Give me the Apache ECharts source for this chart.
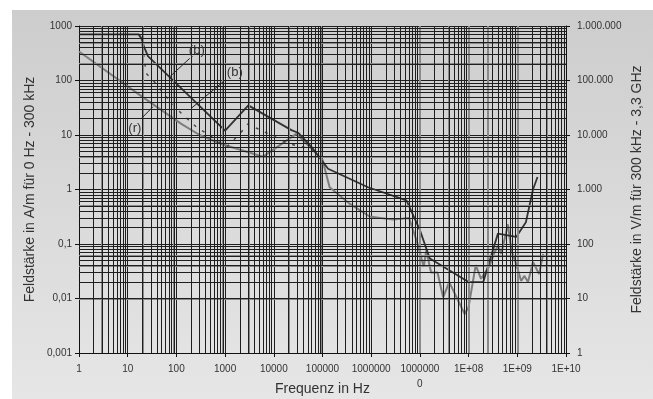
<!DOCTYPE html>
<html>
<head>
<meta charset="utf-8">
<script src="https://cdn.jsdelivr.net/npm/echarts@6/dist/echarts.min.js"></script>
<style>
  html, body { margin: 0; padding: 0; background: #fff; }
  #panel { position: absolute; left: 12px; top: 10px; width: 641px; height: 389px;
           background: linear-gradient(#cdcdcd, #e6e6e6); }
  #chart { position: absolute; left: 0; top: 0; width: 653px; height: 399px; }
</style>
</head>
<body>
<div id="panel"></div>
<div id="chart"></div>
<script>
// (b) solid curve, A/m
const darkFreq = [1, 17, 19, 22, 26, 1000, 3000, 23000, 31500, 60000, 130000, 860000, 5.3e6, 1e7, 1.6e7, 1e8, 2e8, 4e8, 9.5e8, 1.5e9, 2.1e9, 2.6e9];
const darkVal  = [700, 700, 600, 400, 280, 12, 35, 12.3, 11, 6, 2.4, 1.1, 0.63, 0.18, 0.054, 0.02, 0.02, 0.155, 0.135, 0.25, 1.0, 1.7];

// (b) dashed curve
const dashFreq = [17, 20, 24, 36, 62, 126, 257, 415, 1070, 2000, 2950, 4700, 10500, 19500, 55000, 80000];
const dashVal  = [700, 450, 135, 93, 50, 25, 14, 10.7, 6, 10.5, 16, 13, 9.3, 7, 5.6, 4.3];

// (r) grey curve
const greyFreq = [1, 20, 126, 300, 780, 6000, 29000, 55000, 100000, 140000, 360000, 930000, 2.8e6, 6e6, 9e6, 1.2e7, 1.35e7, 1.7e7, 2.3e7, 3e7, 4e7, 8.3e7, 1e8, 1.4e8, 1.8e8, 2.7e8, 3.4e8, 4e8, 4.7e8, 6.4e8, 7.6e8, 9.5e8, 1.2e9, 1.4e9, 1.66e9, 2.1e9, 2.8e9, 3.4e9];
const greyVal  = [340, 50, 16, 10, 7, 4, 10.5, 6, 3.5, 1.1, 0.55, 0.32, 0.28, 0.3, 0.1, 0.038, 0.076, 0.03, 0.03, 0.0105, 0.02, 0.0052, 0.007, 0.041, 0.023, 0.04, 0.07, 0.093, 0.066, 0.23, 0.075, 0.043, 0.021, 0.026, 0.02, 0.047, 0.028, 0.066];

// tick labels
const xTickLabels = ['1', '10', '100', '1000', '10000', '100000', '1000000', '1000000\n0', '1E+08', '1E+09', '1E+10'];
const yLeftLabels = ['0,001', '0,01', '0,1', '1', '10', '100', '1000'];
const yRightLabels = ['1', '10', '100', '1.000', '10.000', '100.000', '1.000.000'];

// extra grey grid lines of the scanned original
const greyGridX = [3, 20, 90, 900, 3000, 20000, 90000, 1e7, 4e7, 1e8, 2.5e8, 1e9, 4e9];
const greyGridY = [500, 200, 4, 0.5, 0.06, 0.04, 0.013, 0.005];

// annotations (text, text anchor, leader start, leader end)
const noteText = ['(b)', '(b)', '(r)'];
const noteAt   = [[262, 363], [1580, 141], [14, 13]];
const noteFrom = [[73, 117], [203, 31], [33, 33]];
const noteTo   = [[188, 255], [980, 100], [19, 20]];

const FONT = 'Liberation Sans, Arial, sans-serif';
const TEXT = '#333';
const GRID = '#1e1e1e';

// minor log grid: 2..9 of every decade
const minorX = [];
for (let k = 0; k < 10; k++) for (let m = 2; m <= 9; m++) minorX.push(m * Math.pow(10, k));
const minorY = [];
for (let k = -3; k < 3; k++) for (let m = 2; m <= 9; m++) minorY.push(m * Math.pow(10, k));

const pairs = (xs, ys) => xs.map((x, i) => [x, ys[i]]);
const decade = (v) => Math.round(Math.log10(v));

const chart = echarts.init(document.getElementById('chart'));
chart.setOption({
  animation: false,
  backgroundColor: 'transparent',
  textStyle: { fontFamily: FONT },
  grid: { left: 79, right: 87, top: 26, bottom: 46, containLabel: false, outerBoundsMode: 'none' },
  xAxis: {
    type: 'log', logBase: 10, min: 1, max: 1e10, interval: 1,
    name: 'Frequenz in Hz', nameLocation: 'middle', nameGap: 29, nameMoveOverlap: false,
    nameTextStyle: { color: TEXT, fontSize: 14, fontFamily: FONT },
    axisLine: { lineStyle: { color: '#111', width: 1 } },
    axisTick: { show: true, length: 4, lineStyle: { color: '#111' } },
    axisLabel: { color: TEXT, fontSize: 10, margin: 9, interval: 0, lineHeight: 15,
      formatter: (v) => xTickLabels[decade(v)] ?? '' },
    splitLine: { show: true, lineStyle: { color: GRID, width: 1 } }
  },
  yAxis: [
    {
      type: 'log', logBase: 10, min: 0.001, max: 1000, interval: 1, position: 'left',
      name: 'Feldstärke in A/m für 0 Hz - 300 kHz', nameLocation: 'middle', nameGap: 42,
      nameMoveOverlap: false,
      nameTextStyle: { color: TEXT, fontSize: 14, fontFamily: FONT },
      axisLine: { show: true, lineStyle: { color: '#111', width: 1 } },
      axisTick: { show: true, length: 4, lineStyle: { color: '#111' } },
      axisLabel: { color: TEXT, fontSize: 10, margin: 7,
        formatter: (v) => yLeftLabels[decade(v) + 3] ?? '' },
      splitLine: { show: true, lineStyle: { color: GRID, width: 1 } }
    },
    {
      type: 'log', logBase: 10, min: 1, max: 1e6, interval: 1, position: 'right',
      name: 'Feldstärke in V/m für 300 kHz - 3,3 GHz', nameLocation: 'middle', nameGap: 64,
      nameRotate: 90, nameMoveOverlap: false,
      nameTextStyle: { color: TEXT, fontSize: 14, fontFamily: FONT },
      axisLine: { show: true, lineStyle: { color: '#111', width: 1 } },
      axisTick: { show: true, length: 4, lineStyle: { color: '#111' } },
      axisLabel: { color: TEXT, fontSize: 10, margin: 11,
        formatter: (v) => yRightLabels[decade(v)] ?? '' },
      splitLine: { show: false }
    }
  ],
  series: [
    {
      // grey grid lines
      type: 'line', data: [[1, 1000]], showSymbol: false, silent: true, z: 1,
      lineStyle: { width: 0 },
      markLine: {
        silent: true, symbol: ['none', 'none'], label: { show: false },
        lineStyle: { color: '#8a8a8a', width: 2, type: 'solid' },
        data: greyGridX.map((v) => ({ xAxis: v })).concat(greyGridY.map((v) => ({ yAxis: v })))
      }
    },
    {
      // black minor grid lines
      type: 'line', data: [[1, 1000]], showSymbol: false, silent: true, z: 1,
      lineStyle: { width: 0 },
      markLine: {
        silent: true, symbol: ['none', 'none'], label: { show: false },
        lineStyle: { color: GRID, width: 1, type: 'solid' },
        data: minorX.map((v) => ({ xAxis: v })).concat(minorY.map((v) => ({ yAxis: v })))
      }
    },
    {
      name: '(r)', type: 'line', data: pairs(greyFreq, greyVal), z: 3,
      showSymbol: false, lineStyle: { color: '#7d7d7d', width: 2 }
    },
    {
      name: '(b) dashed', type: 'line', data: pairs(dashFreq, dashVal), z: 3,
      showSymbol: false, lineStyle: { color: '#4a4a4a', width: 1.5, type: [3, 7] }
    },
    {
      name: '(b)', type: 'line', data: pairs(darkFreq, darkVal), z: 4,
      showSymbol: false, lineStyle: { color: '#333', width: 1.8 }
    },
    {
      // annotations
      type: 'line', data: [[1, 1000]], showSymbol: false, silent: true, z: 5,
      lineStyle: { width: 0 },
      markLine: {
        silent: true, symbol: ['none', 'none'], label: { show: false },
        lineStyle: { color: '#222', width: 1, type: 'solid' },
        data: noteFrom.map((p, i) => [{ coord: p }, { coord: noteTo[i] }])
      },
      markPoint: {
        silent: true, symbol: 'circle', symbolSize: 0,
        label: { show: true, position: 'inside', color: TEXT, fontSize: 13, fontFamily: FONT,
          formatter: (p) => p.name },
        data: noteText.map((t, i) => ({ name: t, coord: noteAt[i] }))
      }
    }
  ]
});
</script>
</body>
</html>
